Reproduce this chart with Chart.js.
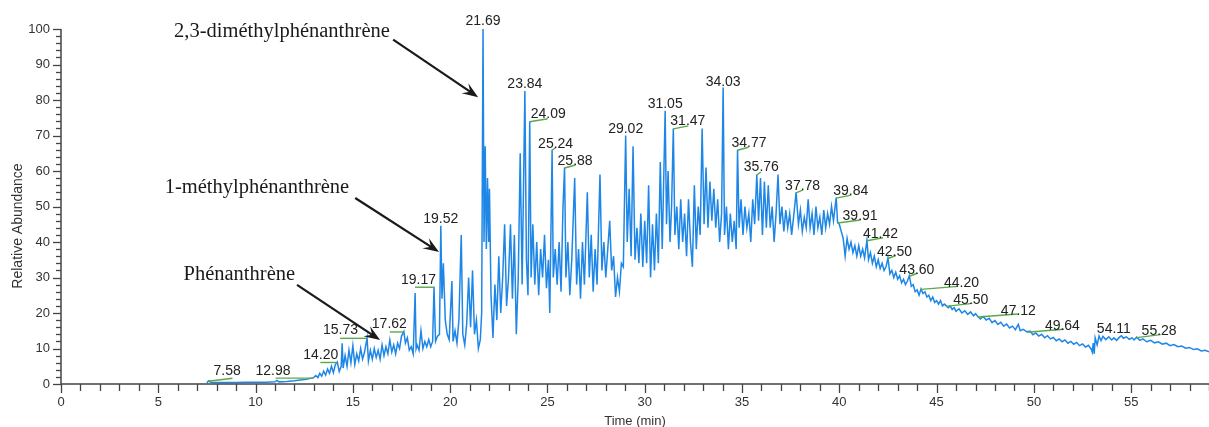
<!DOCTYPE html>
<html>
<head>
<meta charset="utf-8">
<script src="https://cdn.jsdelivr.net/npm/chart.js@4.4.1/dist/chart.umd.min.js"></script>
<style>
html, body { margin: 0; padding: 0; background: #fff; }
#wrap { width: 1209px; height: 427px; }
</style>
</head>
<body>
<div id="wrap"><canvas id="tic-canvas"></canvas></div>
<script>
// chromatogram trace, [time (min), relative abundance]
const trace = [
  [7.5,0.3],[7.58,0.9],[7.7,0.5],[8,0.4],[8.5,0.4],[9,0.4],[9.5,0.5],[10,0.5],[10.5,0.5],
  [11,0.6],[11.1,1.0],[11.2,0.6],[11.6,0.7],[12,0.9],[12.3,1.1],[12.6,1.3],[12.98,1.8],
  [13.1,2.4],[13.2,1.8],[13.3,3.0],[13.4,2.2],[13.5,3.6],[13.6,2.5],[13.7,4.2],[13.8,3.0],
  [13.9,5.0],[14.0,3.2],[14.1,5.5],[14.2,6.2],[14.3,3.5],[14.4,5.0],[14.45,11.5],[14.5,4.5],
  [14.6,8.0],[14.7,5.0],[14.8,9.5],[14.9,6.0],[15.0,10.8],[15.1,5.5],[15.2,8.5],[15.3,6.5],
  [15.4,10.0],[15.5,7.0],[15.6,9.0],[15.73,13.0],[15.8,6.5],[15.9,9.5],[16.0,7.0],[16.1,10.0],
  [16.2,7.5],[16.3,9.5],[16.4,7.0],[16.5,11.0],[16.6,8.0],[16.7,10.5],[16.8,8.5],[16.9,12.4],
  [17.0,9.0],[17.1,11.0],[17.2,8.5],[17.3,11.5],[17.4,10.0],[17.5,13.5],[17.62,14.8],[17.7,11.5],
  [17.8,13.0],[17.9,9.5],[18.0,10.5],[18.1,8.5],[18.2,25.6],[18.25,10.0],[18.3,11.0],[18.4,9.5],
  [18.5,15.0],[18.6,10.0],[18.7,12.0],[18.8,10.5],[18.9,12.5],[19.0,10.5],[19.1,12.0],[19.17,27.4],
  [19.25,12.0],[19.35,13.5],[19.45,14.0],[19.52,44.6],[19.58,24.0],[19.65,34.0],[19.75,18.0],
  [19.85,14.0],[19.95,12.5],[20.09,29.0],[20.15,12.0],[20.25,15.0],[20.35,11.5],[20.45,18.0],
  [20.57,42.0],[20.65,14.0],[20.75,11.0],[20.85,17.0],[20.95,30.0],[21.05,16.0],[21.15,32.0],
  [21.25,14.0],[21.35,18.0],[21.45,10.0],[21.55,12.5],[21.62,20.0],[21.69,100],[21.74,40],
  [21.8,67],[21.86,38],[21.92,58],[21.98,40],[22.02,55],[22.1,25],[22.2,13],[22.3,28],[22.4,18],
  [22.5,36],[22.6,20],[22.7,30],[22.8,45],[22.9,22],[23.0,30],[23.1,45],[23.2,24],[23.3,42],
  [23.4,14],[23.5,30],[23.6,65],[23.7,28],[23.84,82.5],[23.92,35],[24.0,25],[24.09,74],
  [24.16,30],[24.25,45],[24.35,28],[24.45,40],[24.55,25],[24.65,38],[24.75,30],[24.85,42],
  [24.95,27],[25.05,35],[25.12,20],[25.24,66],[25.3,30],[25.4,38],[25.5,28],[25.6,40],[25.7,26],
  [25.8,50],[25.88,61],[25.95,30],[26.05,40],[26.15,25],[26.25,35],[26.4,58],[26.5,28],[26.6,38],
  [26.7,24],[26.8,40],[26.9,28],[27.05,54],[27.15,30],[27.25,42],[27.35,26],[27.45,38],[27.55,28],
  [27.7,59],[27.8,32],[27.9,40],[28.0,30],[28.1,38],[28.2,46],[28.3,32],[28.4,36],[28.5,24.5],
  [28.6,30],[28.7,26],[28.8,34],[28.9,33],[29.02,70],[29.1,40],[29.2,55],[29.3,36],[29.4,67],
  [29.5,35],[29.6,44],[29.7,34],[29.8,48],[29.9,33],[30.0,46],[30.1,34],[30.2,56],[30.3,30],
  [30.4,45],[30.5,32],[30.6,48],[30.7,34],[30.8,62.5],[30.9,38],[31.05,77],[31.12,45],[31.2,60],
  [31.3,40],[31.38,50],[31.47,72],[31.55,42],[31.65,50],[31.75,38],[31.85,52],[31.95,40],
  [32.05,48],[32.15,36],[32.25,52],[32.35,40],[32.45,33],[32.55,56],[32.65,38],[32.75,50],
  [32.85,42],[32.95,72],[33.05,45],[33.15,61],[33.25,44],[33.35,57],[33.45,46],[33.55,55],
  [33.65,44],[33.75,52],[33.85,40],[33.95,48],[34.03,83.5],[34.1,42],[34.2,50],[34.3,38],
  [34.4,48],[34.5,40],[34.6,46],[34.7,38],[34.77,66],[34.85,44],[34.95,52],[35.05,42],[35.15,50],
  [35.25,44],[35.35,48],[35.45,40],[35.55,52],[35.65,45],[35.76,59],[35.85,46],[35.95,58],
  [36.05,42],[36.15,57],[36.25,44],[36.35,56],[36.45,44],[36.55,50],[36.65,40],[36.75,48],
  [36.85,59],[36.95,45],[37.05,50],[37.15,43],[37.25,49],[37.35,44],[37.45,48],[37.55,42],
  [37.65,47],[37.78,54],[37.9,45],[38.0,49],[38.1,43],[38.2,47],[38.3,44],[38.4,52],[38.5,44],
  [38.6,48],[38.7,42],[38.8,50],[38.9,44],[39.0,47],[39.1,42],[39.2,49],[39.3,44],[39.4,48],
  [39.5,45],[39.6,50],[39.7,46],[39.84,52.5],[39.91,45.5],[40.0,45],[40.1,43],[40.2,41],
  [40.3,36],[40.4,41],[40.5,38],[40.6,40],[40.7,37],[40.8,39],[40.9,36],[41.0,39],[41.1,36],
  [41.2,38],[41.3,35.5],[41.42,40.5],[41.5,35],[41.6,37],[41.7,34],[41.8,36],[41.9,33],[42.0,35],
  [42.1,32.5],[42.2,34],[42.3,32],[42.4,33],[42.5,35.5],[42.6,31],[42.7,32],[42.8,30],[42.9,31.5],
  [43.0,29.5],[43.1,30.5],[43.2,28.5],[43.3,29.5],[43.4,28],[43.5,29],[43.6,30.5],[43.7,27.5],
  [43.8,28],[43.9,26],[44.0,26.5],[44.1,25],[44.2,26.8],[44.3,25.5],[44.4,26],[44.5,24.5],
  [44.6,25],[44.7,23.5],[44.8,24.5],[44.9,23],[45.0,23.5],[45.1,22.5],[45.2,23.5],[45.3,22],
  [45.4,22.5],[45.5,22],[45.6,21.5],[45.7,22],[45.8,21],[45.9,21.5],[46.0,20.5],[46.15,21.2],
  [46.3,20.0],[46.45,20.6],[46.6,19.6],[46.75,20.3],[46.9,19.2],[47.0,19.8],[47.12,19],
  [47.25,18.3],[47.4,19.0],[47.55,18.0],[47.7,18.5],[47.85,17.3],[48.0,17.9],[48.15,16.8],
  [48.3,17.4],[48.45,16.3],[48.6,16.9],[48.75,15.8],[48.9,16.3],[49.05,15.3],[49.2,16.8],
  [49.3,15.0],[49.45,15.4],[49.64,14.7],[49.8,14.9],[49.95,13.9],[50.1,14.4],[50.25,13.5],
  [50.4,14.0],[50.55,13.0],[50.7,13.6],[50.85,12.7],[51.0,13.1],[51.15,12.2],[51.3,12.7],
  [51.45,11.9],[51.6,12.4],[51.75,11.5],[51.9,12.0],[52.05,11.2],[52.2,11.7],[52.35,10.8],
  [52.5,11.3],[52.65,10.4],[52.8,10.9],[52.95,9.8],[53.0,9.0],[53.05,11.5],[53.1,8.5],[53.15,13],
  [53.25,11],[53.35,13.5],[53.45,12.2],[53.55,13.4],[53.7,12.5],[53.85,13.3],[54.0,12.4],
  [54.11,13],[54.25,12.3],[54.4,13.2],[54.5,13.6],[54.6,12.9],[54.75,13.3],[54.9,12.6],
  [55.05,13.0],[55.15,12.4],[55.28,13.2],[55.45,12.3],[55.6,12.7],[55.8,11.9],[56.0,12.3],
  [56.2,11.6],[56.4,11.9],[56.6,11.2],[56.8,11.5],[57.0,10.8],[57.2,11.1],[57.4,10.5],
  [57.6,10.7],[57.8,10.1],[58.0,10.3],[58.2,9.7],[58.4,9.9],[58.6,9.3],[58.8,9.5],[59.0,9.1]
];

// labelled peaks (retention times)
const peakTimes = [7.58, 12.98, 14.20, 15.73, 17.62, 19.17, 19.52, 21.69, 23.84, 24.09, 25.24,
  25.88, 29.02, 31.05, 31.47, 34.03, 34.77, 35.76, 37.78, 39.84, 39.91, 41.42, 42.50, 43.60,
  44.20, 45.50, 47.12, 49.64, 54.11, 55.28];

// named compounds: label, text anchor [t, v], arrow from [t, v] to [t, v]
const compoundNames = ['2,3-diméthylphénanthrène', '1-méthylphénanthrène', 'Phénanthrène'];
const compoundText  = [[16.9, 99.2], [14.81, 55.2], [12.03, 30.7]];
const compoundFrom  = [[17.07, 97.0], [15.12, 52.4], [12.13, 27.9]];
const compoundTo    = [[21.44, 80.8], [19.43, 37.2], [16.4, 12.4]];

// label layout for each peak: align, dx (px from peak), dy (px above apex), green mark [x0, x1] px
const peakLayout = {
  '7.58': ['left', 5, -6, [0, 24]], '12.98': ['right', -23, -3, [-38, 0]],
  '14.20': ['right', 1, -3, [-17, 0]], '15.73': ['right', -9, -4, [-27, 0]],
  '17.62': ['right', 3, -3, [-14, 0]], '19.17': ['right', 2, -3, [-19, 0]],
  '19.52': ['center', 0, -3, null], '21.69': ['center', 0, -4, null],
  '23.84': ['center', 0, -3, null], '24.09': ['left', 1, -3, [0, 18]],
  '25.24': ['left', -14, -2, [0, 4]], '25.88': ['left', -7, -2, [0, 11]],
  '29.02': ['center', 0, -3, null], '31.05': ['center', 0, -3, null],
  '31.47': ['left', -3, -3, [0, 15]], '34.03': ['center', 0, -2, null],
  '34.77': ['left', -6, -3, [0, 11]], '35.76': ['left', -13, -4, [0, 4]],
  '37.78': ['left', -11, -2, [0, 7]], '39.84': ['left', -3, -3, [0, 15]],
  '39.91': ['left', 5, -2, [0, 23]], '41.42': ['left', -4, -2, [0, 16]],
  '42.50': ['left', -11, -2, [0, 8]], '43.60': ['left', -10, -2, [0, 8]],
  '44.20': ['left', 23, -2, [0, 37]], '45.50': ['left', 7, -2, [0, 26]],
  '47.12': ['left', 23, -2, [0, 40]], '49.64': ['left', 18, -2, [0, 37]],
  '54.11': ['center', 0, -5, null], '55.28': ['left', 5, -2, [0, 24]]
};

const SANS = '"Liberation Sans", Arial, sans-serif';
const SERIF = '"Liberation Serif", "Times New Roman", serif';

function apexValue(t) {
  let best = 0;
  trace.forEach(([tt, v]) => { if (Math.abs(tt - t) < 0.021 && v > best) best = v; });
  return best;
}

const extras = {
  id: 'extras',
  afterDraw(chart) {
    const { ctx, chartArea: a, scales: { x, y } } = chart;
    ctx.save();

    // axes and ticks
    ctx.strokeStyle = '#444';
    ctx.lineWidth = 1.5;
    ctx.beginPath();
    ctx.moveTo(a.left, a.top);
    ctx.lineTo(a.left, a.bottom);
    ctx.lineTo(a.right, a.bottom);
    ctx.stroke();
    ctx.lineWidth = 1.3;
    x.ticks.forEach(tk => {
      const px = Math.round(x.getPixelForValue(tk.value)) + 0.5;
      const len = tk.value % 5 === 0 ? 9 : 7;
      ctx.beginPath(); ctx.moveTo(px, a.bottom); ctx.lineTo(px, a.bottom + len); ctx.stroke();
    });
    y.ticks.forEach(tk => {
      const py = Math.round(y.getPixelForValue(tk.value)) + 0.5;
      const len = tk.value % 10 === 0 ? 8 : 5;
      ctx.beginPath(); ctx.moveTo(a.left - len, py); ctx.lineTo(a.left, py); ctx.stroke();
    });

    // axis titles
    ctx.fillStyle = '#333';
    ctx.font = '13px ' + SANS;
    ctx.textAlign = 'center';
    ctx.textBaseline = 'middle';
    ctx.fillText('Time (min)', (a.left + a.right) / 2, 421);
    ctx.save();
    ctx.translate(18, 226);
    ctx.rotate(-Math.PI / 2);
    ctx.font = '14px ' + SANS;
    ctx.fillText('Relative Abundance', 0, 0);
    ctx.restore();

    // peak labels with green marks
    ctx.font = '14px ' + SANS;
    ctx.textBaseline = 'alphabetic';
    peakTimes.forEach(t => {
      const label = t.toFixed(2);
      const [align, dx, dy, green] = peakLayout[label];
      const xp = x.getPixelForValue(t);
      const yp = y.getPixelForValue(apexValue(t));
      if (green) {
        ctx.strokeStyle = '#5aa84a';
        ctx.lineWidth = 1.4;
        ctx.beginPath();
        ctx.moveTo(xp + green[0], yp + 0.5);
        ctx.lineTo(xp + green[1], yp + 0.5 - (green[0] === 0 ? 3 : 0));
        ctx.stroke();
      }
      ctx.fillStyle = '#222';
      ctx.textAlign = align;
      ctx.fillText(label, xp + dx, yp + dy);
    });

    // compound names and arrows
    ctx.font = '20.5px ' + SERIF;
    ctx.fillStyle = '#1a1a1a';
    ctx.strokeStyle = '#1a1a1a';
    ctx.textAlign = 'right';
    ctx.textBaseline = 'middle';
    compoundNames.forEach((name, i) => {
      ctx.fillText(name, x.getPixelForValue(compoundText[i][0]), y.getPixelForValue(compoundText[i][1]));
      const x0 = x.getPixelForValue(compoundFrom[i][0]), y0 = y.getPixelForValue(compoundFrom[i][1]);
      const x1 = x.getPixelForValue(compoundTo[i][0]), y1 = y.getPixelForValue(compoundTo[i][1]);
      const ang = Math.atan2(y1 - y0, x1 - x0);
      const hl = 16, hw = 6;
      ctx.lineWidth = 2.2;
      ctx.beginPath();
      ctx.moveTo(x0, y0);
      ctx.lineTo(x1 - Math.cos(ang) * 8, y1 - Math.sin(ang) * 8);
      ctx.stroke();
      ctx.beginPath();
      ctx.moveTo(x1, y1);
      ctx.lineTo(x1 - Math.cos(ang) * hl - Math.sin(ang) * hw, y1 - Math.sin(ang) * hl + Math.cos(ang) * hw);
      ctx.lineTo(x1 - Math.cos(ang) * hl * 0.6, y1 - Math.sin(ang) * hl * 0.6);
      ctx.lineTo(x1 - Math.cos(ang) * hl + Math.sin(ang) * hw, y1 - Math.sin(ang) * hl - Math.cos(ang) * hw);
      ctx.closePath();
      ctx.fill();
    });

    ctx.restore();
  }
};

const ctx = document.getElementById('tic-canvas').getContext('2d');
window.ticChart = new Chart(ctx, {
  type: 'line',
  data: {
    datasets: [{
      data: trace.map(([t, v]) => ({ x: t, y: v })),
      borderColor: '#1e86e6',
      borderWidth: 1.5,
      pointRadius: 0,
      tension: 0,
      fill: false,
      clip: 4
    }]
  },
  options: {
    responsive: true,
    maintainAspectRatio: false,
    animation: false,
    events: [],
    layout: { padding: { top: 29, right: 0, left: 0, bottom: 0 } },
    plugins: { legend: { display: false }, tooltip: { enabled: false } },
    scales: {
      x: {
        type: 'linear',
        min: 0,
        max: 59,
        grid: { display: false, drawTicks: true, tickLength: 11 },
        border: { display: false },
        ticks: {
          stepSize: 1,
          includeBounds: false,
          autoSkip: false,
          maxRotation: 0,
          padding: 0,
          color: '#333',
          font: { size: 13, family: SANS },
          callback: v => (v % 5 === 0 ? v : '')
        },
        afterFit: s => { s.height = 43; }
      },
      y: {
        min: 0,
        max: 100,
        grid: { display: false, drawTicks: false },
        border: { display: false },
        ticks: {
          stepSize: 2,
          autoSkip: false,
          padding: 11,
          color: '#333',
          font: { size: 13, family: SANS },
          callback: v => (v % 10 === 0 ? v : '')
        },
        afterFit: s => { s.width = 61; }
      }
    }
  },
  plugins: [extras]
});
</script>
</body>
</html>
